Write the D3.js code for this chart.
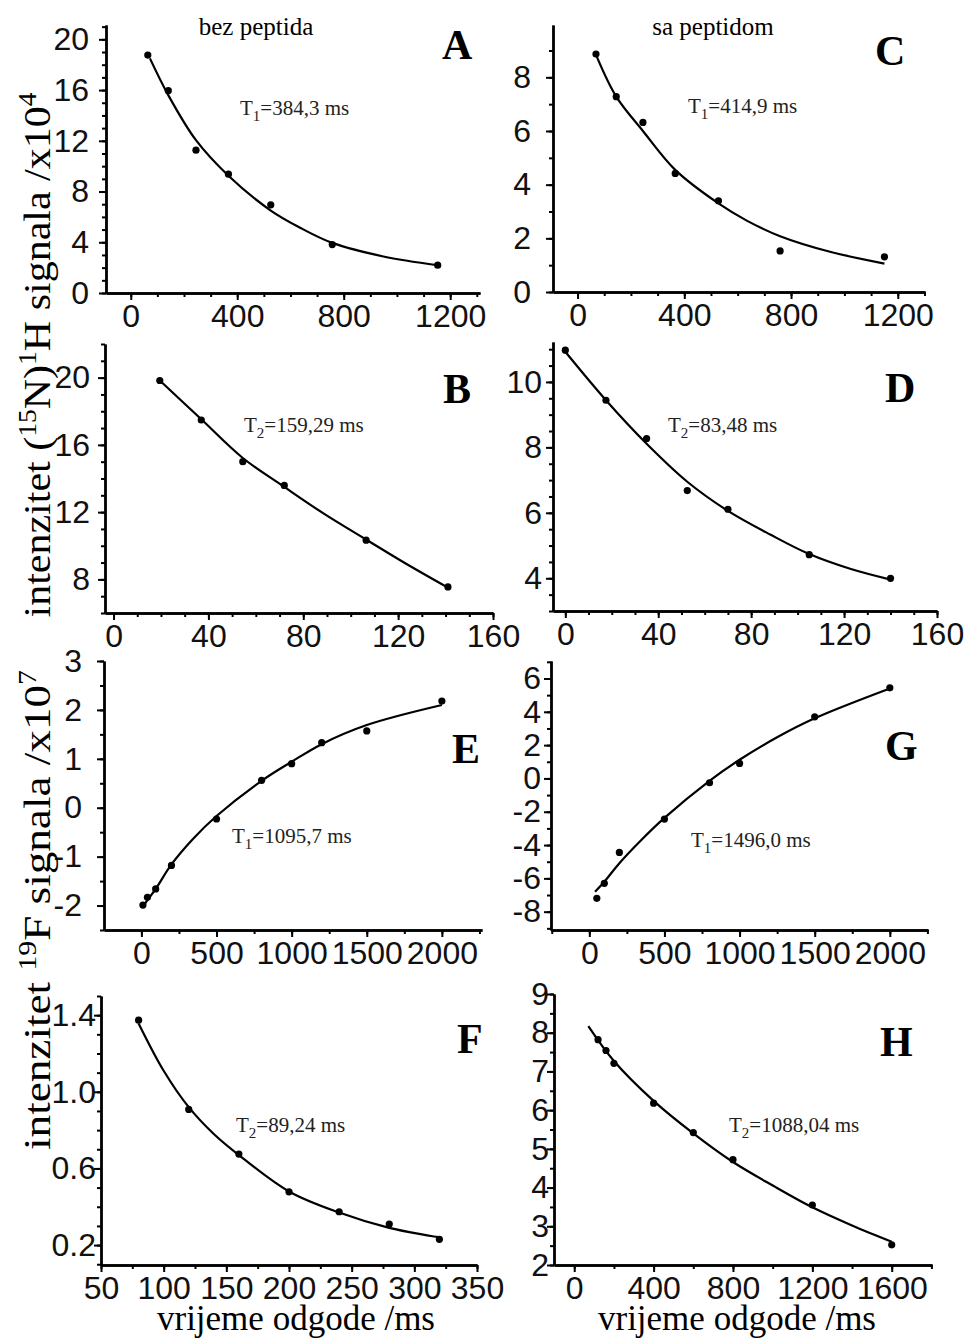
<!DOCTYPE html>
<html>
<head>
<meta charset="utf-8">
<script src="https://cdn.jsdelivr.net/npm/d3@7"></script>
<style>
body { margin: 0; background: #fff; }
</style>
</head>
<body>
<div id="svg-div"></div>
<script>
var width = 973;
var height = 1342;

var xA = [64, 141, 245, 367, 526, 757, 1153];
var yA = [18.76, 15.95, 11.26, 9.37, 6.95, 3.82, 2.19];
var fitXA = [72, 141, 245, 367, 526, 636, 757, 949, 1153];
var fitYA = [18.5, 15.6, 12.05, 9.25, 6.5, 5.15, 3.95, 2.88, 2.19];

var xC = [69, 145, 245, 366, 528, 759, 1150];
var yC = [8.87, 7.28, 6.32, 4.42, 3.4, 1.53, 1.31];
var fitXC = [72, 145, 245, 366, 528, 634, 759, 946, 1150];
var fitYC = [8.77, 7.28, 6.0, 4.55, 3.3, 2.66, 2.08, 1.5, 1.06];

var xB = [19.5, 37, 54.5, 72, 106.5, 141];
var yB = [19.83, 17.48, 15.0, 13.59, 10.33, 7.55];
var fitXB = [19.5, 37, 54.5, 72, 89, 106.5, 123, 141];
var fitYB = [19.83, 17.52, 15.22, 13.5, 11.88, 10.37, 8.96, 7.51];

var xD = [0, 17.5, 35, 52.5, 70, 105, 140];
var yD = [10.97, 9.44, 8.27, 6.68, 6.11, 4.72, 4.0];
var fitXD = [0, 17.5, 35, 52.5, 70, 88.4, 105, 122.6, 140];
var fitYD = [10.92, 9.44, 8.11, 6.95, 6.06, 5.33, 4.74, 4.29, 3.96];

var xE = [10, 40, 95, 200, 500, 800, 1000, 1200, 1500, 2000];
var yE = [-1.99, -1.83, -1.66, -1.18, -0.23, 0.56, 0.9, 1.33, 1.57, 2.18];
var fitXE = [4, 95, 200, 343, 500, 800, 1000, 1200, 1500, 2000];
var fitYE = [-2.04, -1.66, -1.16, -0.64, -0.17, 0.55, 0.94, 1.3, 1.69, 2.1];

var xG = [50, 100, 200, 500, 800, 1000, 1500, 2000];
var yG = [-7.2, -6.3, -4.44, -2.44, -0.26, 0.9, 3.7, 5.44];
var fitXG = [38, 100, 200, 338, 500, 800, 1000, 1250, 1500, 2000];
var fitYG = [-6.8, -6.2, -5.09, -3.77, -2.37, -0.14, 1.12, 2.47, 3.61, 5.4];

var xF = [80, 120, 160, 200, 240, 280, 320];
var yF = [1.374, 0.908, 0.675, 0.478, 0.374, 0.31, 0.23];
var fitXF = [80, 100, 120, 140, 160, 200, 240, 280, 320];
var fitYF = [1.357, 1.11, 0.92, 0.78, 0.67, 0.48, 0.37, 0.29, 0.24];

var xH = [120, 160, 200, 400, 600, 800, 1200, 1600];
var yH = [7.82, 7.54, 7.21, 6.18, 5.42, 4.72, 3.55, 2.52];
var fitXH = [71, 200, 400, 600, 800, 1005, 1200, 1400, 1600];
var fitYH = [8.17, 7.27, 6.24, 5.4, 4.66, 4.04, 3.49, 3.02, 2.6];

// tick labels
var ticksXA = [0, 400, 800, 1200];
var ticksYA = [0, 4, 8, 12, 16, 20];
var ticksYC = [0, 2, 4, 6, 8];
var ticksXB = [0, 40, 80, 120, 160];
var ticksYB = [8, 12, 16, 20];
var ticksYD = [4, 6, 8, 10];
var ticksXE = [0, 500, 1000, 1500, 2000];
var ticksYE = [-2, -1, 0, 1, 2, 3];
var ticksYG = [-8, -6, -4, -2, 0, 2, 4, 6];
var ticksXF = [50, 100, 150, 200, 250, 300, 350];
var ticksYF = [0.2, 0.6, 1.0, 1.4];
var ticksXH = [0, 400, 800, 1200, 1600];
var ticksYH = [2, 3, 4, 5, 6, 7, 8, 9];

var letters = ["A", "C", "B", "D", "E", "G", "F", "H"];
var fitLabels = [
  ["1", "=384,3 ms"], ["1", "=414,9 ms"], ["2", "=159,29 ms"], ["2", "=83,48 ms"],
  ["1", "=1095,7 ms"], ["1", "=1496,0 ms"], ["2", "=89,24 ms"], ["2", "=1088,04 ms"]
];

var panels = [
  {x: xA, y: yA, fx: fitXA, fy: fitYA, tx: ticksXA, ty: ticksYA, mx: 100, my: 1,
   box: [106, 480, 25, 293], dx: [-93, 1312], dy: [0, 21.13], pad: 10,
   letter: [442, 59], lab: [240, 115]},
  {x: xC, y: yC, fx: fitXC, fy: fitYC, tx: ticksXA, ty: ticksYC, mx: 100, my: 1,
   box: [553, 925, 25, 292], dx: [-92, 1302], dy: [0, 9.95], pad: 15,
   letter: [875, 65], lab: [688, 113]},
  {x: xB, y: yB, fx: fitXB, fy: fitYB, tx: ticksXB, ty: ticksYB, mx: 10, my: 1,
   box: [105, 493, 344, 613], dx: [-3.6, 160], dy: [6, 22], pad: 8,
   letter: [443, 403], lab: [244, 432]},
  {x: xD, y: yD, fx: fitXD, fy: fitYD, tx: ticksXB, ty: ticksYD, mx: 10, my: 0.5,
   box: [553, 937, 342, 611], dx: [-5.3, 160], dy: [3, 11.22], pad: 4,
   letter: [885, 402], lab: [668, 432]},
  {x: xE, y: yE, fx: fitXE, fy: fitYE, tx: ticksXE, ty: ticksYE, mx: 250, my: 0.5,
   box: [104, 482, 661, 930], dx: [-249, 2267], dy: [-2.5, 3], pad: 15,
   letter: [452, 763], lab: [232, 843]},
  {x: xG, y: yG, fx: fitXG, fy: fitYG, tx: ticksXE, ty: ticksYG, mx: 250, my: 1,
   box: [551, 928, 661, 930], dx: [-255, 2254], dy: [-9.1, 7.05], pad: 3,
   letter: [885, 760], lab: [691, 847]},
  {x: xF, y: yF, fx: fitXF, fy: fitYF, tx: ticksXF, ty: ticksYF, mx: 25, my: 0.1,
   box: [101, 477, 996, 1265], dx: [50, 350], dy: [0.096, 1.5], pad: -2, yfmt: ".1f",
   letter: [457, 1053], lab: [236, 1132]},
  {x: xH, y: yH, fx: fitXH, fy: fitYH, tx: ticksXH, ty: ticksYH, mx: 200, my: 0.5,
   box: [554, 932, 994, 1265], dx: [-102, 1803], dy: [2, 9], pad: -2,
   letter: [880, 1056], lab: [729, 1132]}
];

var svg = d3.select("#svg-div").append("svg")
  .attr("width", width).attr("height", height)
  .style("font-family", "'Liberation Serif', 'Times New Roman', serif");

var tickFont = "'Liberation Sans', Arial, sans-serif";

function minorTicks(domain, step) {
  var start = Math.ceil(domain[0] / step) * step;
  return d3.range(start, domain[1] + step * 0.01, step);
}

// plain hyphen for negatives, like the original plot
function plain(d) { return String(d); }

panels.forEach(function(p, i) {
  var x = d3.scaleLinear().domain(p.dx).range([p.box[0], p.box[1]]);
  var y = d3.scaleLinear().domain(p.dy).range([p.box[3], p.box[2]]);
  var g = svg.append("g");
  var yfmt = p.yfmt ? d3.format(p.yfmt) : plain;

  // minor ticks first, then the labelled ones on top
  g.append("g").attr("transform", "translate(0," + p.box[3] + ")")
    .call(d3.axisBottom(x).tickValues(minorTicks(p.dx, p.mx)).tickSize(4).tickSizeOuter(0).tickFormat(""));
  g.append("g").attr("transform", "translate(" + p.box[0] + ",0)")
    .call(d3.axisLeft(y).tickValues(minorTicks(p.dy, p.my)).tickSize(4).tickSizeOuter(0).tickFormat(""));

  g.append("g").attr("transform", "translate(0," + p.box[3] + ")")
    .call(d3.axisBottom(x).tickValues(p.tx).tickSize(7).tickSizeOuter(0).tickPadding(4).tickFormat(plain));
  g.append("g").attr("transform", "translate(" + p.box[0] + ",0)")
    .call(d3.axisLeft(y).tickValues(p.ty).tickSize(7).tickSizeOuter(0).tickPadding(p.pad).tickFormat(yfmt));

  g.selectAll(".domain").attr("stroke", "#000").attr("stroke-width", 2.4);
  g.selectAll(".tick line").attr("stroke", "#000").attr("stroke-width", 2);
  g.selectAll(".tick text").attr("fill", "#111")
    .style("font-family", tickFont).style("font-size", "32px");

  var line = d3.line()
    .x(function(d, k) { return x(p.fx[k]); })
    .y(function(d, k) { return y(p.fy[k]); })
    .curve(d3.curveCatmullRom.alpha(0.5));
  g.append("path").datum(p.fx).attr("d", line)
    .attr("fill", "none").attr("stroke", "#000").attr("stroke-width", 2.2);

  g.selectAll("circle").data(p.x).enter().append("circle")
    .attr("cx", function(d) { return x(d); })
    .attr("cy", function(d, k) { return y(p.y[k]); })
    .attr("r", 3.6).attr("fill", "#000");

  g.append("text").attr("x", p.letter[0]).attr("y", p.letter[1])
    .style("font-size", "42px").style("font-weight", "bold").text(letters[i]);

  var t = g.append("text").attr("x", p.lab[0]).attr("y", p.lab[1])
    .style("font-size", "21px").attr("fill", "#222");
  t.append("tspan").text("T");
  t.append("tspan").attr("dy", 6).style("font-size", "15px").text(fitLabels[i][0]);
  t.append("tspan").attr("dy", -6).text(fitLabels[i][1]);
});

svg.append("text").attr("x", 256).attr("y", 35).attr("text-anchor", "middle")
  .style("font-size", "25px").text("bez peptida");
svg.append("text").attr("x", 713).attr("y", 35).attr("text-anchor", "middle")
  .style("font-size", "25px").text("sa peptidom");

[296, 737].forEach(function(cx) {
  svg.append("text").attr("x", cx).attr("y", 1330).attr("text-anchor", "middle")
    .style("font-size", "35px").text("vrijeme odgode /ms");
});

function yLabel(cy, len, parts) {
  var t = svg.append("text").attr("text-anchor", "middle")
    .attr("transform", "translate(50," + cy + ") rotate(-90)")
    .attr("textLength", len).attr("lengthAdjust", "spacingAndGlyphs")
    .style("font-size", "38px");
  parts.forEach(function(s) {
    var ts = t.append("tspan").text(s[0]);
    if (s[1]) ts.attr("dy", s[1]);
    if (s[2]) ts.style("font-size", s[2]);
  });
}
yLabel(355, 525, [["intenzitet ("], ["15", -14, "25px"], ["N)", 14], ["1", -14, "25px"],
  ["H signala /x10", 14], ["4", -14, "25px"]]);
yLabel(910, 480, [["intenzitet "], ["19", -14, "25px"], ["F signala /x10", 14], ["7", -14, "25px"]]);
</script>
</body>
</html>
